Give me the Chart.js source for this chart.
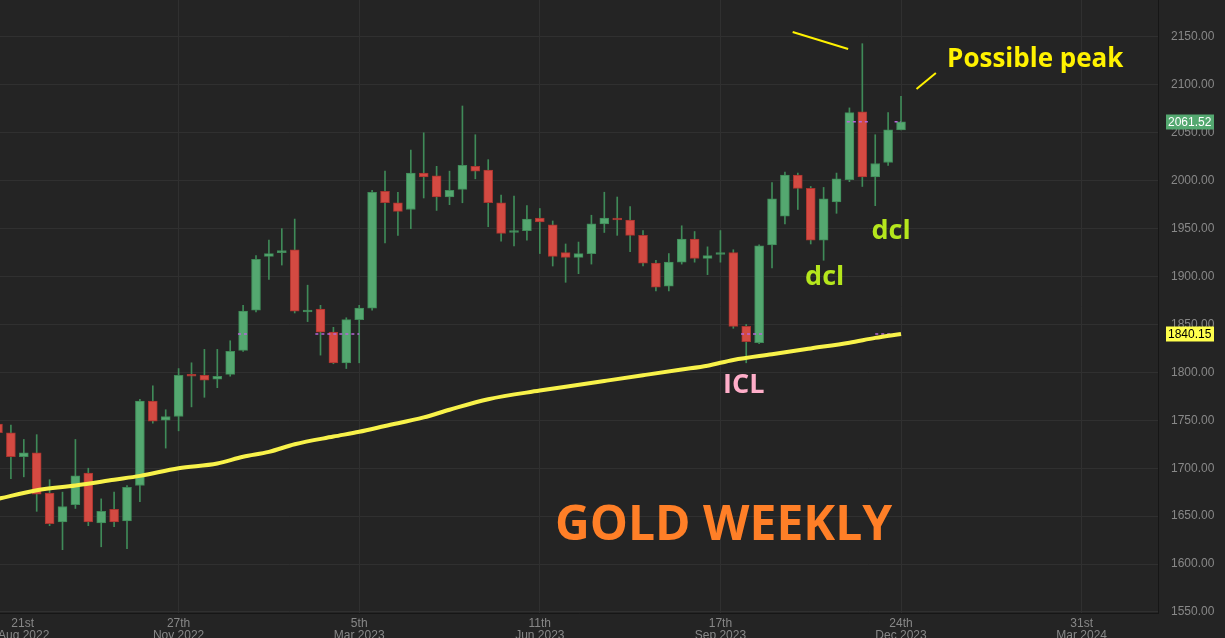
<!DOCTYPE html>
<html>
<head>
<meta charset="utf-8">
<title>Gold weekly</title>
<script src="https://cdn.jsdelivr.net/npm/chart.js@4.4.1/dist/chart.umd.min.js"></script>
<style>
  html, body { margin: 0; padding: 0; background: #242424; }
  #wrap { width: 1225px; height: 638px; }
</style>
</head>
<body>
<div id="wrap"><canvas id="goldChart" width="1225" height="638"></canvas></div>
<script>
// weekly candles, week 0 = 21st Aug 2022
const opens = [1746, 1737, 1712, 1716, 1674, 1644, 1662, 1695, 1643, 1657,
  1645, 1682, 1770, 1750, 1754, 1797, 1797, 1793, 1798, 1823,
  1865, 1921, 1925, 1928, 1863, 1866, 1842, 1810, 1855, 1867,
  1989, 1977, 1970, 2008, 2005, 1983, 1991, 2015, 2011, 1977,
  1946, 1948, 1961, 1954, 1925, 1920, 1924, 1955, 1961, 1959,
  1943, 1914, 1890, 1915, 1939, 1919, 1923, 1925, 1848, 1831,
  1933, 1963, 2006, 1992, 1938, 1978, 2001, 2072, 2004, 2019,
  2053];
const highs = [1752, 1745, 1730, 1735, 1688, 1675, 1730, 1700, 1668, 1675,
  1682, 1772, 1786, 1761, 1804, 1810, 1824, 1824, 1833, 1870,
  1922, 1938, 1950, 1960, 1891, 1870, 1847, 1857, 1870, 1990,
  2010, 1988, 2032, 2050, 2015, 2010, 2078, 2048, 2022, 1985,
  1984, 1974, 1971, 1958, 1934, 1936, 1964, 1988, 1983, 1973,
  1948, 1917, 1924, 1953, 1947, 1931, 1948, 1928, 1850, 1933,
  1998, 2009, 2008, 1994, 1993, 2008, 2076, 2143, 2048, 2071,
  2088];
const lows = [1728, 1689, 1691, 1655, 1640, 1615, 1658, 1640, 1618, 1639,
  1616, 1665, 1747, 1721, 1739, 1764, 1774, 1784, 1796, 1822,
  1863, 1897, 1912, 1862, 1853, 1818, 1809, 1804, 1810, 1865,
  1935, 1943, 1950, 1982, 1969, 1975, 1977, 2002, 1952, 1937,
  1932, 1938, 1924, 1911, 1894, 1903, 1913, 1946, 1943, 1926,
  1911, 1885, 1885, 1913, 1915, 1902, 1915, 1846, 1810, 1830,
  1909, 1955, 1970, 1934, 1917, 1966, 1999, 1994, 1974, 2016,
  2053];
const closes = [1737, 1712, 1716, 1673, 1642, 1660, 1692, 1644, 1655, 1644,
  1680, 1770, 1749, 1754, 1797, 1796, 1792, 1796, 1822, 1864,
  1918, 1924, 1927, 1864, 1865, 1842, 1810, 1855, 1867, 1988,
  1977, 1968, 2008, 2004, 1983, 1990, 2016, 2010, 1977, 1945,
  1948, 1960, 1957, 1921, 1920, 1924, 1955, 1961, 1959, 1943,
  1914, 1889, 1915, 1939, 1919, 1922, 1925, 1848, 1832, 1932,
  1981, 2006, 1992, 1938, 1981, 2002, 2071, 2004, 2018, 2053,
  2061.52];

// moving average read at a few weeks
const maWeeks = [0, 3, 6, 9, 11, 14, 17, 19, 21, 23, 26, 28, 30, 33, 35, 38,
  42, 44, 47, 50, 53, 55, 57, 60, 63, 66, 68, 70];
const maValues = [1668, 1677, 1682, 1688, 1692, 1700, 1705, 1712, 1717, 1725,
  1733, 1738, 1744, 1753, 1761, 1772, 1781, 1785, 1791, 1797, 1803, 1807,
  1813, 1819, 1825, 1831, 1836, 1840.15];

// short dashed price-level marks: [fromWeek, toWeek, price]
const levelMarks = [[18.6, 19.5, 1840.15], [24.6, 28.0, 1840.15], [57.6, 59.3, 1840.15],
  [68.0, 70.0, 1840.15], [65.8, 67.5, 2061.52], [69.5, 70.0, 2061.52]];

// x axis ticks (week index) and labels
const tickWeeks = [0, 14, 28, 42, 56, 70, 84, 98];
const tickLabels = [["    21st", "Aug 2022"], ["27th", "Nov 2022"], ["5th", "Mar 2023"],
  ["11th", "Jun 2023"], ["17th", "Sep 2023"], ["24th", "Dec 2023"], ["31st", "Mar 2024"], ""];

// text notes drawn on the chart, anchored at (week, price)
const notes = [
  { text: "Possible peak", week: 73.57, price: 2118.7, color: "#fff200", size: 26 },
  { text: "dcl", week: 62.56, price: 1891.2, color: "#b5e61d", size: 27 },
  { text: "dcl", week: 67.71, price: 1939.2, color: "#b5e61d", size: 27 },
  { text: "ICL", week: 56.2, price: 1778.5, color: "#ffaec9", size: 27 },
  { text: "GOLD WEEKLY", week: 43.18, price: 1625.1, color: "#ff7f27", size: 48 },
];
// hand drawn pointer strokes: [week1, price1, week2, price2]
const pointers = [[61.6, 2155.2, 65.9, 2137.5], [71.2, 2095.7, 72.7, 2112.4]];

const weeks = opens.map((o, i) => i);
const isUp = (i) => closes[i] >= opens[i];

const levelData = [];
levelMarks.forEach((m) => {
  levelData.push({ x: m[0], y: m[2] }, { x: m[1], y: m[2] }, { x: m[1], y: null });
});

const axisFont = { family: "'Liberation Sans', Arial, sans-serif", size: 12, lineHeight: 1 };

// background + notes + price badges
const decorations = {
  id: "decorations",
  beforeDraw(chart) {
    const c = chart.ctx;
    c.save();
    c.fillStyle = "#242424";
    c.fillRect(0, 0, chart.width, chart.height);
    c.restore();
  },
  afterDatasetsDraw(chart) {
    const c = chart.ctx;
    const { x, y } = chart.scales;
    c.save();
    c.strokeStyle = "#fff200";
    c.lineWidth = 2;
    pointers.forEach((p) => {
      c.beginPath();
      c.moveTo(x.getPixelForValue(p[0]), y.getPixelForValue(p[1]));
      c.lineTo(x.getPixelForValue(p[2]), y.getPixelForValue(p[3]));
      c.stroke();
    });
    c.textBaseline = "alphabetic";
    c.textAlign = "left";
    notes.forEach((n) => {
      c.font = "bold " + n.size + "px 'Open Sans', sans-serif";
      c.fillStyle = n.color;
      c.fillText(n.text, x.getPixelForValue(n.week), y.getPixelForValue(n.price));
    });
    c.restore();
  },
  afterDraw(chart) {
    const c = chart.ctx;
    const y = chart.scales.y;
    const left = chart.chartArea.right + 8;
    const badges = [
      { value: closes[closes.length - 1], bg: "#54a870", fg: "#ffffff" },
      { value: maValues[maValues.length - 1], bg: "#ffff4d", fg: "#000000" },
    ];
    c.save();
    c.font = "12px 'Liberation Sans', Arial, sans-serif";
    c.textBaseline = "middle";
    badges.forEach((b) => {
      const py = Math.round(y.getPixelForValue(b.value));
      c.fillStyle = b.bg;
      c.fillRect(left, py - 7.5, 48, 15);
      c.fillStyle = b.fg;
      c.fillText(b.value.toFixed(2), left + 2, py + 0.5);
    });
    c.restore();
  },
};

const ctx = document.getElementById("goldChart").getContext("2d");
const goldChart = new Chart(ctx, {
  type: "bar",
  data: {
    datasets: [
      {
        type: "line",
        label: "Moving average",
        data: maWeeks.map((w, k) => ({ x: w, y: maValues[k] })),
        borderColor: "#f8f24a",
        borderWidth: 4,
        pointRadius: 0,
        cubicInterpolationMode: "monotone",
        order: 0,
      },
      {
        type: "line",
        label: "Levels",
        data: levelData,
        borderColor: "#b766d9",
        borderWidth: 1.5,
        borderDash: [3, 3],
        pointRadius: 0,
        spanGaps: false,
        order: 1,
      },
      {
        label: "Body",
        data: weeks.map((i) => ({ x: i, y: [opens[i], closes[i]] })),
        backgroundColor: (c) => (isUp(c.dataIndex) ? "#54a870" : "#d44a42"),
        borderColor: (c) => (isUp(c.dataIndex) ? "#3f8a58" : "#a8352f"),
        borderWidth: 1,
        borderSkipped: false,
        barThickness: 9,
        minBarLength: 2,
        grouped: false,
        order: 2,
      },
      {
        label: "Wick",
        data: weeks.map((i) => ({ x: i, y: [lows[i], highs[i]] })),
        backgroundColor: "#3f8a58",
        barThickness: 1,
        grouped: false,
        order: 3,
      },
    ],
  },
  options: {
    responsive: false,
    animation: false,
    devicePixelRatio: 1,
    layout: { padding: 0 },
    plugins: { legend: { display: false }, tooltip: { enabled: false } },
    scales: {
      x: {
        type: "linear",
        min: 0.155,
        max: 89.92,
        bounds: "data",
        offset: false,
        grid: { color: "#303030", offset: false, drawTicks: false },
        border: { color: "#161616" },
        afterBuildTicks: (s) => {
          s.ticks = tickWeeks.map((v) => ({ value: v }));
        },
        afterFit: (s) => {
          s.height = 25;
          s.paddingLeft = 0;
          s.paddingRight = 0;
        },
        ticks: {
          align: "inner",
          autoSkip: false,
          maxRotation: 0,
          padding: 5,
          color: "#888888",
          font: axisFont,
          callback: (v, idx) => tickLabels[idx],
        },
      },
      y: {
        position: "right",
        min: 1548.9,
        max: 2188.6,
        grid: { color: "#303030", drawTicks: false },
        border: { color: "#161616" },
        afterFit: (s) => {
          s.width = 67;
          s.paddingTop = 0;
          s.paddingBottom = 0;
        },
        ticks: {
          stepSize: 50,
          includeBounds: false,
          padding: 13,
          color: "#888888",
          font: axisFont,
          callback: (v) => Number(v).toFixed(2),
        },
      },
    },
  },
  plugins: [decorations],
});
</script>
</body>
</html>
